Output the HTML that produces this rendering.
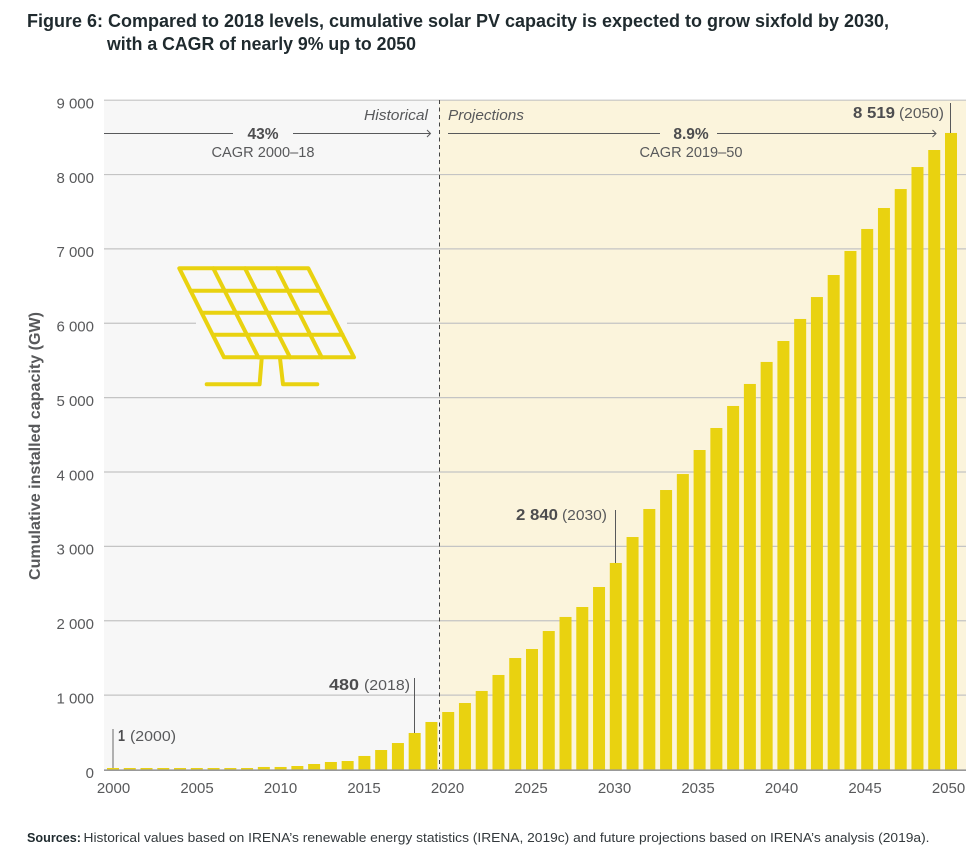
<!DOCTYPE html>
<html lang="en">
<head>
<meta charset="utf-8">
<title>Figure 6: cumulative solar PV capacity</title>
<style>
html,body{margin:0;padding:0;background:#fff;width:979px;height:857px;overflow:hidden}
svg{display:block;font-family:"Liberation Sans",sans-serif}
.t{fill:#58595b}
.b{font-weight:bold;fill:#4d4d4f}
</style>
</head>
<body>
<svg id="chart" xmlns="http://www.w3.org/2000/svg" width="979" height="857" viewBox="0 0 979 857">
  <rect width="979" height="857" fill="#fff"/>
  <text x="27" y="27" font-size="18" font-weight="bold" fill="#1f2a2e" textLength="862" lengthAdjust="spacingAndGlyphs">Figure 6: Compared to 2018 levels, cumulative solar PV capacity is expected to grow sixfold by 2030,</text>
  <text x="107" y="50" font-size="18" font-weight="bold" fill="#1f2a2e" textLength="309" lengthAdjust="spacingAndGlyphs">with a CAGR of nearly 9% up to 2050</text>

  <rect x="104" y="100" width="335.500" height="670" fill="#f7f7f7"/>
  <rect x="439.500" y="100" width="526.500" height="670" fill="#fbf4dc"/>

  <g id="grid"></g>
  <rect x="196" y="320" width="151" height="6" fill="#f7f7f7"/>

  <g fill="none" stroke="#e9d210" stroke-width="4" stroke-linecap="round" stroke-linejoin="round">
    <path d="M179.300 268.300H308.300L354 357.300H224Z"/>
    <path d="M190.500 290.700H319.800M201.800 312.700H331M213 334.700H342.500"/>
    <path d="M213.300 268.300L258.300 357.300M245 268.300L290 357.300M276.700 268.300L321.700 357.300"/>
    <path d="M261.700 358.300L259.600 384.300H206.700M280 358.300L283 384.300H317.300"/>
  </g>

  <g id="bars"></g>
  <line x1="104" x2="966" y1="770.200" y2="770.200" stroke="#999" stroke-width="1.600"/>
  <line x1="439.500" x2="439.500" y1="100" y2="769" stroke="#444" stroke-width="1" stroke-dasharray="4 3.500"/>

  <g id="yticks"></g>
  <g id="xticks"></g>
  <text transform="translate(40,580) rotate(-90)" font-size="16" font-weight="bold" fill="#58595b" textLength="268" lengthAdjust="spacingAndGlyphs">Cumulative installed capacity (GW)</text>

  <text class="t" x="428" y="120" text-anchor="end" font-size="14.500" font-style="italic" textLength="64" lengthAdjust="spacingAndGlyphs">Historical</text>
  <text class="t" x="448" y="120" font-size="14.500" font-style="italic" textLength="76" lengthAdjust="spacingAndGlyphs">Projections</text>

  <g fill="none" stroke="#58595b" stroke-width="1">
    <path d="M104 133.500H233M293 133.500H430.500M427 130L430.500 133.500L427 137"/>
  </g>
  <text class="b" x="263" y="139" text-anchor="middle" font-size="15.500">43%</text>
  <text class="t" x="263" y="157" text-anchor="middle" font-size="14.500" textLength="103" lengthAdjust="spacingAndGlyphs">CAGR 2000–18</text>

  <g fill="none" stroke="#58595b" stroke-width="1">
    <path d="M448 133.500H660M717 133.500H936M932.500 130L936 133.500L932.500 137"/>
  </g>
  <text class="b" x="691" y="139" text-anchor="middle" font-size="15.500">8.9%</text>
  <text class="t" x="691" y="157" text-anchor="middle" font-size="14.500" textLength="103" lengthAdjust="spacingAndGlyphs">CAGR 2019–50</text>

  <line x1="950.500" x2="950.500" y1="103" y2="133" stroke="#58595b"/>
  <text class="b" x="853" y="118" font-size="16" textLength="42" lengthAdjust="spacingAndGlyphs">8 519</text>
  <text class="t" x="899" y="118" font-size="14.500" textLength="45" lengthAdjust="spacingAndGlyphs">(2050)</text>

  <line x1="615.500" x2="615.500" y1="510" y2="563" stroke="#58595b"/>
  <text class="b" x="516" y="520" font-size="16" textLength="42" lengthAdjust="spacingAndGlyphs">2 840</text>
  <text class="t" x="562" y="520" font-size="14.500" textLength="45" lengthAdjust="spacingAndGlyphs">(2030)</text>

  <line x1="414.500" x2="414.500" y1="678" y2="733" stroke="#58595b"/>
  <text class="b" x="329" y="690" font-size="16" textLength="30" lengthAdjust="spacingAndGlyphs">480</text>
  <text class="t" x="364" y="690" font-size="14.500" textLength="46" lengthAdjust="spacingAndGlyphs">(2018)</text>

  <line x1="113" x2="113" y1="729" y2="768" stroke="#999" stroke-width="1.500"/>
  <text class="b" x="118" y="741" font-size="16" textLength="7" lengthAdjust="spacingAndGlyphs">1</text>
  <text class="t" x="130" y="741" font-size="14.500" textLength="46" lengthAdjust="spacingAndGlyphs">(2000)</text>

  <text x="27" y="842" font-size="12.500" font-weight="bold" fill="#1f2a2e" textLength="54" lengthAdjust="spacingAndGlyphs">Sources:</text>
  <text x="83.500" y="842" font-size="12.500" fill="#33393c" textLength="846" lengthAdjust="spacingAndGlyphs">Historical values based on IRENA’s renewable energy statistics (IRENA, 2019c) and future projections based on IRENA’s analysis (2019a).</text>
</svg>
<script>
var years = [2000,2001,2002,2003,2004,2005,2006,2007,2008,2009,2010,2011,2012,2013,2014,2015,2016,2017,2018,2019,2020,2021,2022,2023,2024,2025,2026,2027,2028,2029,2030,2031,2032,2033,2034,2035,2036,2037,2038,2039,2040,2041,2042,2043,2044,2045,2046,2047,2048,2049,2050];
var capacityGW = [20,20,20,20,20,20,20,20,20,34,34,47,74,101,114,182,262,356,491,639,773,894,1056,1271,1499,1620,1862,2051,2185,2454,2777,3126,3503,3758,3973,4296,4592,4888,5184,5480,5762,6058,6353,6649,6972,7268,7550,7805,8101,8330,8559];
var yTickValues = [0,1000,2000,3000,4000,5000,6000,7000,8000,9000];
var yTickLabels = ["0","1 000","2 000","3 000","4 000","5 000","6 000","7 000","8 000","9 000"];
var xTickYears = [2000,2005,2010,2015,2020,2025,2030,2035,2040,2045,2050];

var NS = "http://www.w3.org/2000/svg";
function xScale(year){ return 113 + (year - 2000) * 16.76; }
function xLabelScale(year){ return 113.5 + (year - 2000) * 16.7; }
function yScale(value){ return 769.5 - value * 0.07437; }

var grid = document.getElementById("grid");
var yticks = document.getElementById("yticks");
yTickValues.forEach(function(v, i){
  var y = yScale(v);
  if (v > 0) {
    var line = document.createElementNS(NS, "line");
    
    
    line.setAttribute("x1", 104);
    line.setAttribute("x2", 966);
    line.setAttribute("y1", y);
    line.setAttribute("y2", y);
    line.setAttribute("stroke", "#c4c4c4");
    line.setAttribute("stroke-width", "1.2");
    grid.appendChild(line);
  }
  var t = document.createElementNS(NS, "text");
  
  
  t.setAttribute("x", 94);
  t.setAttribute("y", y + 8.3);
  t.setAttribute("text-anchor", "end");
  t.setAttribute("font-size", "15");
  t.setAttribute("fill", "#58595b");
  t.textContent = yTickLabels[i];
  yticks.appendChild(t);
});

var bars = document.getElementById("bars");
years.forEach(function(yr, i){
  var r = document.createElementNS(NS, "rect");
  var top = yScale(capacityGW[i]);
  
  
  r.setAttribute("x", xScale(yr) - 6);
  r.setAttribute("y", top);
  r.setAttribute("width", 12);
  r.setAttribute("height", yScale(0) - top);
  r.setAttribute("fill", "#e9d210");
  bars.appendChild(r);
});

var xticks = document.getElementById("xticks");
xTickYears.forEach(function(yr){
  var t = document.createElementNS(NS, "text");
  
  
  t.setAttribute("x", xLabelScale(yr));
  t.setAttribute("y", 793);
  t.setAttribute("text-anchor", "middle");
  t.setAttribute("font-size", "15");
  t.setAttribute("fill", "#58595b");
  t.textContent = yr;
  xticks.appendChild(t);
});
</script>
</body>
</html>
